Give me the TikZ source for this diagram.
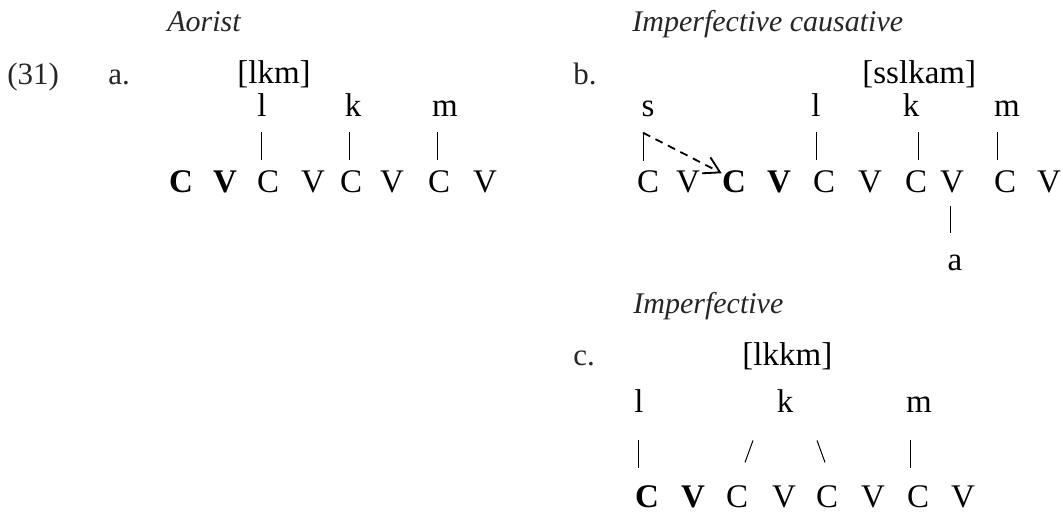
\documentclass[tikz,border=0pt]{standalone}
\usepackage{fontspec}
\setmainfont{Liberation Serif}
\usetikzlibrary{arrows.meta}

\begin{document}
\begin{tikzpicture}[
    x=0.5pt, y=-0.5pt,
    seg/.style={inner sep=0pt, anchor=base, font=\fontsize{16.5}{18}\selectfont},
    bseg/.style={seg, font=\fontsize{16.5}{18}\selectfont\bfseries},
    mel/.style={seg},
    lab/.style={inner sep=0pt, anchor=base west, text=black!85, font=\fontsize{15}{17}\selectfont\itshape},
    num/.style={inner sep=0pt, anchor=base west, text=black!85, font=\fontsize{15.5}{17}\selectfont},
    assoc/.style={line width=0.5pt},
    spreadarrow/.style={line width=0.9pt, dash pattern=on 4pt off 3pt, -{Straight Barb[angle=60:9pt]}}
  ]
    \useasboundingbox (0,0) rectangle (1063,513);

    \node[lab] (aorist) at (167,32) {Aorist};
    \node[num] (exnum) at (7,85) {(31)};
    \node[num] (alab) at (108,85) {a.};
    \node[seg, anchor=base west] (aform) at (237,84) {[lkm]};
    \node[mel] (aL) at (262,117) {l};
    \node[mel] (aK) at (353,117) {k};
    \node[mel] (aM) at (445,117) {m};
    \node[bseg] (aC1) at (181,192) {C};
    \node[bseg] (aV1) at (225,192) {V};
    \node[seg] (aC2) at (268,192) {C};
    \node[seg] (aV2) at (313,192) {V};
    \node[seg] (aC3) at (351,192) {C};
    \node[seg] (aV3) at (392,192) {V};
    \node[seg] (aC4) at (439,192) {C};
    \node[seg] (aV4) at (485,192) {V};
    \draw[assoc] (aL.south) ++(-1,15) -- ++(0,28);
    \draw[assoc] (aK.south) ++(-4,15) -- ++(0,28);
    \draw[assoc] (aM.south) ++(-8,15) -- ++(0,28);

    \node[lab] (caus) at (632,32) {Imperfective causative};
    \node[num] (blab) at (573,85) {b.};
    \node[seg, anchor=base west] (bform) at (862,84) {[sslkam]};
    \node[mel] (bS) at (648,117) {s};
    \node[mel] (bL) at (816,117) {l};
    \node[mel] (bK) at (911,117) {k};
    \node[mel] (bM) at (1007,117) {m};
    \node[seg] (bC1) at (648,192) {C};
    \node[seg] (bV1) at (688,192) {V};
    \node[bseg] (bC2) at (734,192) {C};
    \node[bseg] (bV2) at (779,192) {V};
    \node[seg] (bC3) at (824,192) {C};
    \node[seg] (bV3) at (870,192) {V};
    \node[seg] (bC4) at (916,192) {C};
    \node[seg] (bV4) at (952,192) {V};
    \node[seg] (bC5) at (1005,192) {C};
    \node[seg] (bV5) at (1049,192) {V};
    \node[mel] (bA) at (955,270) {a};
    \draw[assoc] (bS.south) ++(-5,15) -- ++(0,28);
    \draw[assoc] (bL.south) ++(0,15) -- ++(0,28);
    \draw[assoc] (bK.south) ++(7,15) -- ++(0,28);
    \draw[assoc] (bM.south) ++(-10,15) -- ++(0,28);
    \draw[assoc] (bV4.south) ++(-2,13) -- ++(0,27);
    \draw[spreadarrow] (bS.south) ++(-5,15) -- ([yshift=4pt]bC2.west);

    \node[lab] (impf) at (633,313) {Imperfective};
    \node[num] (clab) at (573,365) {c.};
    \node[seg, anchor=base west] (cform) at (742,365) {[lkkm]};
    \node[mel] (cL) at (639,412) {l};
    \node[mel] (cK) at (785,412) {k};
    \node[mel] (cM) at (919,412) {m};
    \node[bseg] (cC1) at (647,507) {C};
    \node[bseg] (cV1) at (693,507) {V};
    \node[seg] (cC2) at (737,507) {C};
    \node[seg] (cV2) at (784,507) {V};
    \node[seg] (cC3) at (827,507) {C};
    \node[seg] (cV3) at (873,507) {V};
    \node[seg] (cC4) at (918,507) {C};
    \node[seg] (cV4) at (963,507) {V};
    \draw[assoc] (cL.south) ++(-1,28) -- ++(0,28);
    \draw[assoc] (cK.south) ++(-32,28) -- ++(-8,22);
    \draw[assoc] (cK.south) ++(32,28) -- ++(8,22);
    \draw[assoc] (cM.south) ++(-9,28) -- ++(0,28);
  \end{tikzpicture}
\end{document}
